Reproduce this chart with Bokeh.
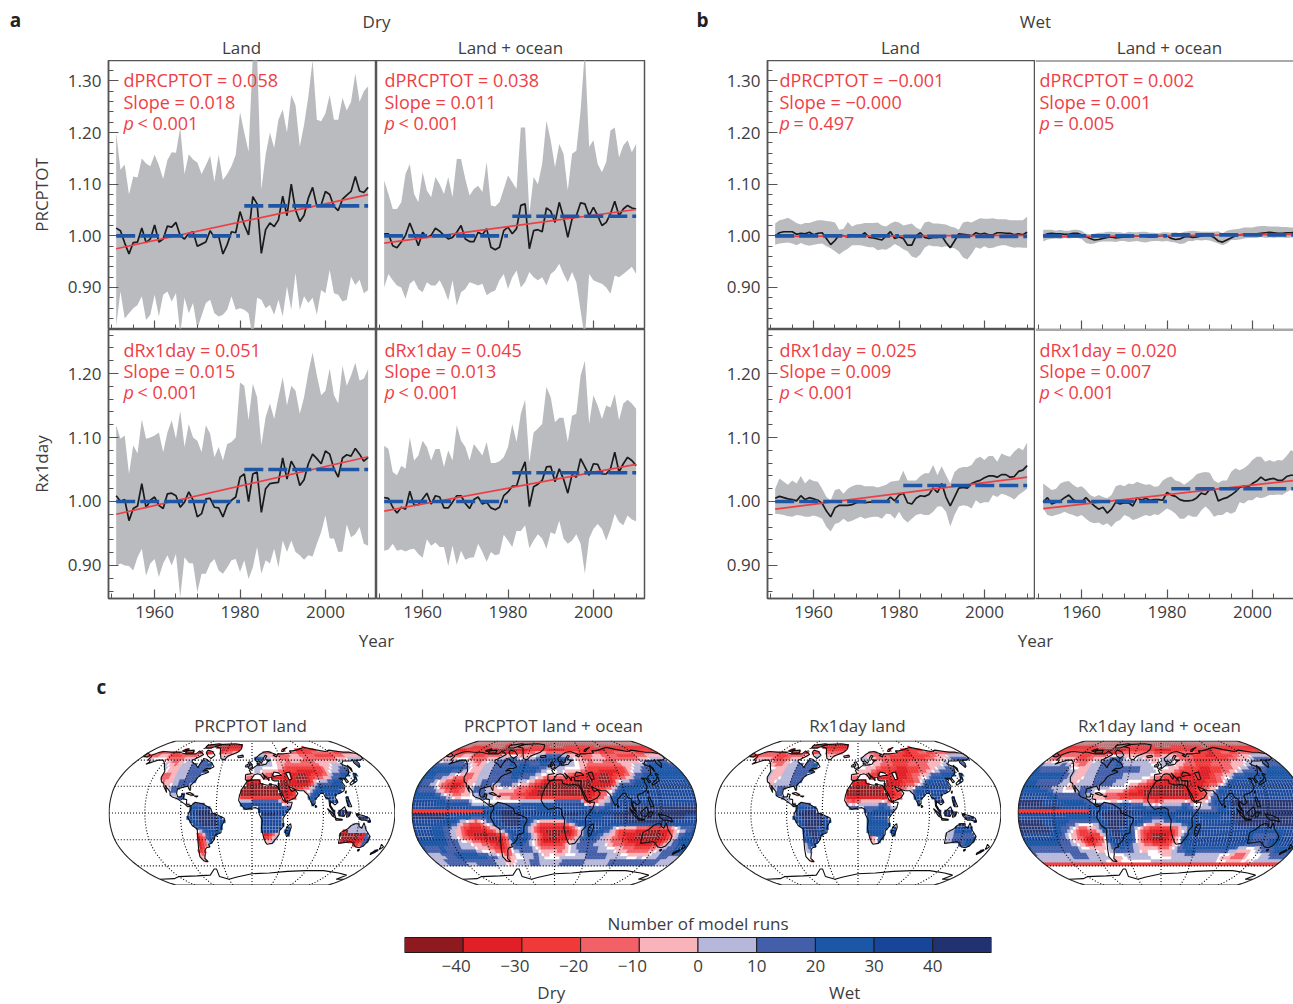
import numpy as np
from bokeh.core.properties import value
from bokeh.embed import file_html
from bokeh.layouts import column, row
from bokeh.models import FixedTicker, Range1d, Span
from bokeh.plotting import figure
from bokeh.resources import INLINE

FONT = "Open Sans"
TXT = "#3d3d3d"
RED = "#ee3e45"
GREY = "#babbbf"
BLUE = "#1f55a5"
BLACK = "#1a1a1a"
AX = "#555555"

YEARS = np.arange(1951, 2011)
P_TICKS = [0.90, 1.00, 1.10, 1.20, 1.30]
R_TICKS = [0.90, 1.00, 1.10, 1.20]

# a: dry, PRCPTOT, land
DLP_MEAN = [1.015,1.01,.986,.965,.987,.988,1.015,.987,.994,1.021,.988,.994,1.019,1.017,1.026,1.0,.994,1.005,1.008,.98,.984,.988,1.01,.997,.999,.965,.983,1.008,1.006,1.047,1.021,1.002,1.076,1.062,.966,1.012,1.025,1.018,1.031,1.077,1.039,1.10,1.05,1.028,1.04,1.073,1.094,1.057,1.06,1.086,1.08,1.057,1.049,1.071,1.079,1.086,1.115,1.087,1.084,1.094]
DLP_UP = [1.20,1.128,1.138,1.08,1.115,1.113,1.15,1.14,1.135,1.157,1.137,1.11,1.147,1.162,1.161,1.21,1.12,1.158,1.148,1.142,1.12,1.137,1.155,1.105,1.157,1.108,1.12,1.135,1.157,1.24,1.2,1.163,1.35,1.35,1.09,1.157,1.2,1.17,1.225,1.245,1.2,1.273,1.253,1.173,1.215,1.27,1.34,1.225,1.222,1.237,1.273,1.225,1.225,1.267,1.243,1.26,1.315,1.26,1.28,1.29]
DLP_LO = [.825,.892,.84,.85,.86,.866,.883,.837,.847,.886,.844,.886,.892,.873,.889,.81,.88,.85,.87,.82,.845,.87,.876,.85,.844,.847,.857,.883,.857,.86,.857,.85,.80,.88,.876,.86,.866,.847,.876,.844,.902,.857,.928,.857,.883,.87,.88,.847,.895,.889,.934,.889,.886,.873,.876,.921,.905,.915,.889,.895]
# a: dry, PRCPTOT, land + ocean
DOP_MEAN = [1.004,1.004,.981,.977,.988,1.001,1.025,1.004,.981,1.007,.997,1.001,1.015,1.009,1.001,.994,.997,1.007,1.02,.994,.989,.989,1.007,1.002,1.014,.978,.973,.978,1.01,1.017,1.004,1.014,1.059,1.062,.975,1.01,1.012,1.008,1.054,1.048,1.026,1.065,1.036,.997,1.033,1.039,1.064,1.062,1.039,1.055,1.039,1.02,1.026,1.043,1.067,1.039,1.052,1.059,1.054,1.052]
DOP_UP = [1.107,1.081,1.052,1.052,1.065,1.12,1.139,1.081,1.065,1.123,1.088,1.075,1.114,1.10,1.081,1.114,1.075,1.149,1.149,1.11,1.078,1.091,1.097,1.085,1.143,1.059,1.057,1.065,1.091,1.117,1.104,1.091,1.21,1.21,1.043,1.114,1.10,1.139,1.223,1.185,1.133,1.178,1.159,1.088,1.159,1.165,1.243,1.36,1.172,1.185,1.139,1.123,1.143,1.204,1.21,1.152,1.175,1.185,1.162,1.178]
DOP_LO = [.90,.926,.914,.904,.90,.878,.907,.914,.897,.891,.91,.904,.904,.914,.897,.875,.914,.865,.891,.897,.91,.907,.904,.907,.885,.891,.894,.914,.926,.897,.92,.933,.90,.91,.93,.92,.914,.92,.904,.926,.933,.946,.926,.91,.93,.91,.855,.80,.926,.914,.91,.907,.90,.888,.923,.92,.926,.933,.94,.926]
# a: dry, Rx1day, land
DLR_MEAN = [1.009,1.0,1.003,.97,.989,.993,1.028,.99,1.002,1.007,.994,.989,1.012,1.013,1.009,.991,.999,1.015,1.002,.976,.981,1.004,1.005,.991,.99,.976,.994,1.002,1.007,1.038,1.043,1.0,1.043,1.046,.983,1.02,1.028,1.029,1.03,1.068,1.035,1.063,1.051,1.025,1.034,1.059,1.074,1.067,1.059,1.079,1.074,1.051,1.038,1.068,1.073,1.071,1.083,1.074,1.063,1.069]
DLR_UP = [1.119,1.098,1.103,1.043,1.088,1.075,1.128,1.098,1.10,1.103,1.108,1.077,1.108,1.127,1.098,1.142,1.085,1.121,1.10,1.095,1.077,1.119,1.106,1.069,1.085,1.064,1.09,1.093,1.10,1.186,1.181,1.127,1.184,1.163,1.088,1.132,1.153,1.129,1.163,1.194,1.15,1.181,1.173,1.137,1.163,1.202,1.233,1.197,1.166,1.173,1.208,1.166,1.153,1.212,1.181,1.197,1.217,1.189,1.192,1.207]
DLR_LO = [.90,.903,.90,.899,.892,.913,.926,.884,.903,.91,.882,.903,.916,.90,.918,.85,.913,.904,.903,.858,.887,.887,.903,.91,.892,.887,.897,.908,.91,.89,.908,.879,.897,.929,.887,.908,.903,.926,.897,.939,.921,.939,.921,.916,.909,.916,.914,.934,.952,.978,.942,.942,.921,.922,.964,.944,.949,.96,.934,.931]
# a: dry, Rx1day, land + ocean
DOR_MEAN = [1.006,1.005,.991,.982,.991,.988,1.016,.994,.995,1.004,1.013,.996,1.009,1.007,.99,.99,.999,1.009,1.009,.997,.989,1.003,1.007,.996,.999,.99,.987,.991,1.009,1.015,1.024,1.024,1.046,1.062,.992,1.023,1.027,1.033,1.054,1.055,1.031,1.051,1.035,1.013,1.042,1.038,1.067,1.054,1.041,1.059,1.058,1.043,1.043,1.051,1.077,1.046,1.059,1.069,1.064,1.056]
DOR_UP = [1.087,1.082,1.046,1.041,1.056,1.051,1.10,1.064,1.072,1.095,1.085,1.064,1.082,1.082,1.054,1.08,1.064,1.119,1.095,1.085,1.064,1.09,1.081,1.072,1.093,1.06,1.06,1.063,1.069,1.085,1.121,1.093,1.137,1.159,1.061,1.108,1.114,1.121,1.179,1.163,1.124,1.131,1.131,1.093,1.134,1.137,1.197,1.22,1.121,1.166,1.15,1.129,1.15,1.147,1.168,1.127,1.153,1.159,1.153,1.145]
DOR_LO = [.923,.925,.934,.923,.925,.922,.925,.926,.918,.912,.941,.931,.936,.929,.929,.899,.931,.901,.923,.909,.912,.913,.934,.921,.906,.921,.916,.918,.948,.939,.929,.954,.954,.963,.927,.939,.949,.942,.926,.952,.949,.97,.942,.934,.939,.949,.934,.887,.942,.957,.965,.957,.939,.957,.981,.968,.963,.978,.972,.969]
# b: wet, PRCPTOT, land
WLP_MEAN = [1.0,1.006,1.008,1.008,1.008,1.003,1.005,1.004,1.007,1.002,1.005,1.006,.995,.983,.991,1.002,1.0,.998,1.0,.999,1.0,1.006,.997,.996,.994,.992,1.0,1.008,.995,.998,.995,.982,.982,1.0,1.006,.997,.995,.997,.997,1.0,.987,.977,.99,1.004,1.003,1.002,1.0,1.006,1.003,1.005,1.002,1.002,1.006,1.006,1.005,1.005,1.002,1.004,1.002,1.007]
WLP_UP = [1.024,1.03,1.032,1.035,1.03,1.025,1.022,1.025,1.025,1.028,1.03,1.03,1.029,1.028,1.026,1.012,1.014,1.027,1.018,1.022,1.023,1.025,1.025,1.025,1.026,1.02,1.018,1.024,1.028,1.026,1.02,1.022,1.024,1.016,1.012,1.026,1.028,1.024,1.024,1.023,1.022,1.018,1.016,1.012,1.026,1.028,1.026,1.03,1.034,1.033,1.033,1.034,1.032,1.032,1.032,1.03,1.03,1.03,1.03,1.037]
WLP_LO = [.983,.985,.986,.987,.985,.982,.986,.983,.981,.983,.984,.985,.98,.976,.97,.964,.97,.975,.982,.982,.982,.98,.978,.978,.972,.974,.973,.978,.984,.98,.974,.97,.96,.957,.964,.977,.982,.98,.98,.978,.98,.977,.976,.97,.958,.954,.965,.978,.975,.98,.976,.977,.98,.982,.982,.979,.977,.978,.977,.977]
# b: wet, PRCPTOT, land + ocean
WOP_MEAN = [1.0,1.004,1.005,1.004,1.004,1.003,1.003,1.005,1.005,1.002,.999,.995,.992,.993,.995,.997,.998,.996,.997,.998,.998,.999,1.0,1.0,.999,.998,.998,1.0,1.001,1.0,.995,.993,.994,.998,.999,.997,.998,1.0,1.001,1.001,.997,.99,.988,.992,.996,1.0,1.002,1.003,1.003,1.004,1.004,1.005,1.006,1.007,1.006,1.005,1.005,1.006,1.006,1.007]
WOP_UP = [1.012,1.012,1.012,1.01,1.012,1.01,1.01,1.012,1.012,1.01,1.004,1.003,1.004,1.006,1.006,1.008,1.008,1.007,1.007,1.005,1.008,1.007,1.007,1.008,1.008,1.006,1.006,1.005,1.007,1.007,1.006,1.007,1.005,1.008,1.009,1.01,1.009,1.008,1.008,1.008,1.008,1.009,1.005,1.01,1.012,1.013,1.014,1.016,1.016,1.016,1.018,1.019,1.019,1.018,1.018,1.018,1.017,1.017,1.016,1.016]
WOP_LO = [.989,.993,.994,.995,.994,.996,.995,.996,.996,.994,.986,.984,.985,.988,.989,.989,.989,.988,.99,.99,.988,.989,.99,.988,.987,.989,.99,.99,.989,.99,.988,.987,.984,.985,.99,.99,.992,.991,.992,.991,.988,.985,.982,.985,.992,.992,.993,.995,.996,.996,.996,.998,.996,.997,.996,.997,.997,.996,.997,.997]
# b: wet, Rx1day, land
WLR_MEAN = [1.005,1.008,1.006,1.004,1.003,1.001,1.009,1.003,1.006,1.004,1.002,.997,.985,.976,.99,.994,.994,.994,.995,.998,.999,.998,.999,.999,.999,.999,1.0,1.007,1.001,1.01,1.013,.998,.996,1.005,1.009,1.008,1.011,1.021,1.014,1.028,1.007,.993,1.007,1.021,1.022,1.021,1.028,1.031,1.033,1.037,1.04,1.04,1.038,1.042,1.042,1.038,1.039,1.047,1.049,1.056]
WLR_UP = [1.02,1.036,1.031,1.026,1.033,1.028,1.04,1.028,1.035,1.032,1.031,1.02,1.007,1.002,1.018,1.02,1.012,1.02,1.024,1.026,1.026,1.024,1.024,1.024,1.022,1.024,1.026,1.031,1.032,1.033,1.048,1.033,1.033,1.033,1.04,1.044,1.044,1.057,1.041,1.055,1.041,1.028,1.046,1.052,1.054,1.054,1.057,1.067,1.07,1.065,1.071,1.071,1.062,1.075,1.072,1.07,1.078,1.084,1.08,1.092]
WLR_LO = [.981,.98,.979,.977,.976,.979,.978,.976,.976,.978,.976,.973,.96,.953,.965,.967,.973,.968,.97,.973,.976,.973,.975,.976,.976,.973,.981,.98,.973,.984,.973,.967,.973,.979,.981,.979,.979,.984,.992,.992,.984,.961,.979,.992,.994,.993,.989,1.002,.997,.999,.999,1.01,1.007,1.012,1.01,1.007,1.003,1.01,1.015,1.02]
# b: wet, Rx1day, land + ocean
WOR_MEAN = [.999,1.006,.996,.999,1.001,1.006,1.01,1.003,.999,.999,1.006,.999,.993,.988,.991,.982,.988,.999,.996,.998,.998,.993,1.006,1.002,1.005,1.002,1.003,1.003,1.002,1.014,1.01,1.008,1.003,1.001,1.001,1.002,1.006,1.013,1.011,1.019,1.02,1.001,1.004,1.006,1.01,1.015,1.022,1.024,1.023,1.028,1.032,1.038,1.033,1.035,1.036,1.033,1.033,1.039,1.041,1.041]
WOR_UP = [1.028,1.023,1.018,1.02,1.028,1.031,1.032,1.026,1.022,1.024,1.018,1.01,1.007,1.01,1.007,1.005,1.01,1.024,1.026,1.024,1.028,1.027,1.031,1.028,1.026,1.027,1.023,1.024,1.033,1.037,1.039,1.033,1.031,1.026,1.031,1.036,1.043,1.045,1.046,1.045,1.033,1.029,1.033,1.033,1.046,1.052,1.049,1.052,1.057,1.065,1.07,1.07,1.062,1.065,1.062,1.065,1.064,1.071,1.08,1.078]
WOR_LO = [.989,.979,.977,.979,.981,.984,.981,.979,.976,.979,.973,.968,.966,.967,.963,.966,.96,.968,.971,.979,.976,.971,.973,.976,.979,.977,.98,.979,.984,.989,.986,.981,.973,.973,.979,.976,.976,.986,.992,.986,.976,.979,.979,.984,.981,.984,.999,.997,1.002,1.002,1.007,1.005,1.007,1.01,1.01,1.011,1.01,1.015,1.018,1.02]

MEANS_AND_ENVELOPES = [DLP_MEAN,DLP_UP,DLP_LO,DOP_MEAN,DOP_UP,DOP_LO,DLR_MEAN,DLR_UP,DLR_LO,DOR_MEAN,DOR_UP,DOR_LO,
                       WLP_MEAN,WLP_UP,WLP_LO,WOP_MEAN,WOP_UP,WOP_LO,WLR_MEAN,WLR_UP,WLR_LO,WOR_MEAN,WOR_UP,WOR_LO]
for i, s in enumerate(MEANS_AND_ENVELOPES):
    assert len(s) == 60, (i, len(s))

# c: agreement fields, 7.5 degree cells, north to south, lon -180 to 180
# a..e = dry bins (darkest first), f..j = wet bins, . = none
P_FIELD = [
"aaaaaaaa aaaaaaaa aaaaaaaa aaaaaaaa aaaaaaaa aaaaaaaa",
"aaaaaaaa aaabaaaa aaaaaaaa aaaaaaaa aaaaaaaa aaaaaaaa",
"bbcccccc bbaaaaab bcddddcb bbcccccc cccbccdd dddccccc",
"dddeeecc ddeeffgg e..fgghh hhgfeedd eeedddcc ccddeeef",
"fgggggfe deffgggh ghhgghhg hgff.eed eedddeee ffghhhhg",
"hhhhhhgf eeffgggg hhhhhgf. ffe..ecc cbbbccef fgghhhhh",
"hhggfeed deffgggg hhggf.ee eedcbbbb aabccdfg hhhhhhhh",
"ggfedcbb eefggggg gf.edcaa aaaaaaab aacfgghh hiiiiiii",
"gggfdcbc dfggfde. eddcbaaa aaaaaabc defhhhhi iiiiiiii",
"hhhhgfed eefggfdd dccbbaaa aaaaabbc dfhiiiii iiiiiiii",
"iiiihhhh ggeeeeff ffgghhhh iiiiicde fgiiiiii iiiiiiii",
"iiiiiiii iiiiihij jiiiihhh iiiiiihg hiiijjjj jjjjjjjj",
"jjjjjjii iihhhiij jjiiiiii ijjjiihh iijjjjjj jjjjjjii",
"iiiihhhg edcdfgij jjihfdcc cdfhiiii iiiijjjj jjjjiiii",
"iiihhgfe cbbbcdfh iihfdbaa aaacegii hgecccbb aabbdffg",
"iiihhgfe cbaaaabc hiihfdba abbdfhhg fedcbbaa aaabdghh",
"hhhhhggf feedcbac ghhfecbb bcefgggf feddcbbb abbdfghh",
"ggghgggf ffeedcbd fgggfeee dd.fgggg fffeeddc cdefggii",
"fffgghhh hhhggfed e.ffgfe. .....fgg ggffffee .effggff",
"ffggggff ggggffee fffggfff fgggggff fffggggg gggggfff",
"ffffffff ffffffff ffffffff ffffffff ffffffff ffffffff",
"........ ........ ........ ........ ........ ........",
"........ ........ ........ ........ ........ ........",
"........ ........ ........ ........ ........ ........",
]
R_FIELD = [
"aaaaaaaa aaaaaaaa aaaaaaaa aaaaaaaa aaaaaaaa aaaaaaaa",
"aaaaaaaa aaaaaaaa aaaaaaaa aaaaaaaa aaaaaaaa aaaaaaaa",
"cccdddcc bbaaaabc cdddcccb bbccdddd cccbccdd cccccccc",
"ccddddcc ddeefggg e..feeee ffeedddc ccbbcccc deefgggg",
"ffffgfed deffgggh ffffffe. fffeeddc ccddddee effffggg",
"hgggggff eeffgggh ggggfff. .eedcccb bbccddef fggghhhh",
"hhhhhhgf eeffgggg gfffff.e dccbbbcb bcdeeghh hhhhhhhh",
"hhggggff efffgggg ff..edcb bbaaaabb ccdfhiii iiiiiiii",
"hhhggffe efggfffe ..dcbaaa aaaabbcd efhiiiii iiiiiiii",
"iiiiihgg gggfeddc cbbbbaaa aaaaaabc fgiiiiii iiiiiiii",
"jjjjiiih hhhgffff fggffeed ffffgeef giiijjjj jjjjjjjj",
"jjjjjjji iiiiiiij jjjiihhh hgghhgff fghiijjj jjjjjjjj",
"iiiiiiii hhhhiijj jjiiiihh hhiijiih hhiijjjj jjjjjjjj",
"jjjjiihh ggfffgij jjiihffe ffgghhii iiiiijjj jjjjjjjj",
"jjjjjihg fecddfij jihfdcbb bbcefhii iiiiiiih hhhhhiii",
"iiiiihhf edcbbcfi jihfdbaa abdfhiii iiiiiiih gggghiii",
"hhhhhhgg fedbcdfh iihfeccb bcefhiii iiiiiiih ggghhiii",
"gggggggg gfffeefg gggfee.. defghhhg ggggggee efggghhh",
"fffffffg ggffff.e efffff.. .effffff fffeeddc ..effggg",
"ffffffff fffff.ee ......ff ffffffff fff..... .effffff",
"........ ........ ........ ........ ........ ........",
"........ ........ ........ ........ ........ ........",
"........ ........ ........ ........ ........ ........",
"........ ........ ........ ........ ........ ........",
]
# bands too thin for the 7.5 degree cells: lat_min, lat_max, lon_min, lon_max, bin
P_BANDS = [(0.0, 3.75, -180, -90, "c")]
R_BANDS = [(0.0, 3.75, -180, -90, "c"), (-60.0, -56.25, -180, 180, "c")]
# places where the land-only map differs from the land + ocean one
P_LAND = [(-24, -8, 10, 40, "i"), (-22, -10, 125, 155, "f"), (-40, -20, 148, 156, "g")]
R_LAND = [(-28, -8, 10, 40, "h"), (-34, -14, 112, 122, "f")]

BIN_COLORS = ["#8e1a1f", "#e01f26", "#f03a3a", "#f26168", "#f9b4bb",
              "#b6b7da", "#445fa9", "#1b57a6", "#17459a", "#223270"]
BIN_EDGES = [-50, -40, -30, -20, -10, 0, 10, 20, 30, 40, 50]
BIN_LABELS = ["\u221240", "\u221230", "\u221220", "\u221210", "0", "10", "20", "30", "40"]

# Robinson table
ROB_LAT = np.arange(0, 95, 5)
ROB_PLEN = [1,.9986,.9954,.99,.9822,.973,.96,.9427,.9216,.8962,.8679,.835,.7986,.7597,.7186,.6732,.6213,.5722,.5322]
ROB_PDFE = [0,.062,.124,.186,.248,.31,.372,.434,.4958,.5571,.6176,.6769,.7346,.7903,.8435,.8936,.9394,.9761,1]

# coastlines (lon, lat), coarse
NORTH_AMERICA = [(-168,66),(-162,70),(-156,71),(-141,70),(-128,70),(-115,68),(-108,68),(-96,68),(-94,72),(-86,69),(-82,67),(-87,64),(-94,60),(-92,57),(-85,55),(-82,53),(-79,51),(-79,55),(-77,60),(-78,62),(-72,61),(-66,58),(-62,57),(-56,52),(-60,50),(-66,50),(-70,47),(-65,48),(-61,46),(-66,44),(-70,43),(-74,40),(-76,36),(-81,31),(-80,25),(-82,27),(-84,30),(-90,29),(-97,27),(-97,22),(-95,18),(-91,18),(-90,21),(-87,21),(-88,16),(-83,15),(-83,10),(-79,9),(-77,8),(-81,7),(-85,10),(-90,13),(-95,16),(-102,18),(-105,20),(-106,24),(-112,29),(-114,31),(-110,23),(-115,29),(-117,33),(-121,35),(-124,40),(-124,47),(-128,51),(-133,56),(-140,60),(-148,60),(-153,58),(-160,55),(-158,58),(-165,61),(-165,64)]
SOUTH_AMERICA = [(-77,8),(-72,12),(-62,10),(-52,5),(-50,0),(-44,-2),(-35,-6),(-35,-9),(-39,-15),(-40,-22),(-48,-25),(-49,-29),(-54,-34),(-58,-35),(-57,-38),(-62,-39),(-65,-42),(-66,-46),(-69,-51),(-66,-55),(-72,-54),(-75,-49),(-73,-40),(-71,-30),(-70,-18),(-76,-14),(-81,-5),(-80,0),(-77,4)]
AFRICA = [(-6,36),(3,37),(10,37),(11,33),(20,31),(25,32),(32,31),(34,28),(37,21),(39,15),(43,12),(51,12),(49,6),(42,-2),(39,-6),(40,-15),(35,-20),(35,-24),(32,-28),(27,-34),(20,-35),(18,-33),(15,-27),(12,-17),(13,-8),(9,-1),(9,4),(5,6),(-4,5),(-8,4),(-13,8),(-17,14),(-16,20),(-13,27),(-10,31)]
EURASIA = [(-9,37),(-9,43),(-1,44),(-4,48),(1,50),(4,52),(8,54),(8,57),(11,56),(10,54),(14,54),(21,55),(24,58),(29,60),(23,60),(21,62),(25,65),(22,66),(18,62),(17,59),(14,56),(11,59),(7,58),(5,62),(13,67),(20,70),(28,71),(41,67),(35,66),(40,64),(44,68),(54,68),(68,69),(67,72),(73,72),(80,73),(100,77),(113,74),(130,71),(140,73),(160,70),(170,70),(180,68),(180,65),(178,62),(170,60),(163,60),(163,56),(157,51),(156,57),(160,61),(155,59),(142,59),(135,55),(141,52),(135,44),(129,41),(127,39),(129,35),(126,34),(125,39),(121,39),(118,39),(122,37),(120,35),(122,30),(119,25),(113,22),(108,21),(106,18),(109,12),(105,9),(100,13),(99,9),(104,1),(101,3),(98,8),(98,16),(94,17),(92,22),(88,22),(85,19),(80,15),(80,11),(77,8),(74,14),(72,20),(70,22),(67,25),(61,25),(57,26),(52,28),(48,30),(50,26),(52,24),(56,26),(59,22),(55,17),(45,13),(43,13),(39,21),(35,28),(35,32),(36,36),(30,36),(27,37),(27,40),(23,40),(23,36),(20,40),(14,45),(18,40),(16,38),(12,43),(8,44),(3,43),(0,39),(-2,37),(-5,36)]
CHUKOTKA = [(-180,65),(-172,64),(-170,66),(-180,69)]
GREENLAND = [(-73,78),(-60,82),(-35,83),(-20,81),(-20,74),(-25,70),(-40,65),(-44,60),(-50,62),(-54,68),(-60,76)]
BAFFIN = [(-80,73),(-70,71),(-62,66),(-66,62),(-73,65),(-80,70)]
VICTORIA = [(-117,72),(-105,73),(-102,69),(-115,69)]
ELLESMERE = [(-90,80),(-70,83),(-62,82),(-78,76),(-88,76)]
BANKS = [(-125,72),(-118,75),(-115,73),(-120,71)]
NOVAYA = [(52,71),(56,74),(68,77),(60,74),(55,71)]
ICELAND = [(-24,65),(-15,66),(-14,64),(-22,63)]
BRITAIN = [(-5,50),(1,51),(0,54),(-3,58),(-6,57),(-3,54),(-5,52)]
IRELAND = [(-10,52),(-6,52),(-6,55),(-9,54)]
HONSHU = [(130,31),(136,34),(141,36),(142,40),(141,41),(139,38),(133,35),(130,33)]
HOKKAIDO = [(140,42),(145,43),(142,45)]
SAKHALIN = [(142,46),(144,50),(142,54),(142,50)]
MADAGASCAR = [(49,-12),(50,-16),(47,-25),(44,-25),(43,-21),(44,-16)]
SRI_LANKA = [(80,9),(82,7),(80,6)]
SUMATRA = [(95,5),(104,-2),(106,-6),(101,-3)]
BORNEO = [(109,1),(117,7),(119,1),(116,-4),(110,-3)]
JAVA = [(105,-6),(114,-7),(114,-8),(106,-8)]
SULAWESI = [(119,-5),(120,1),(125,1),(122,-4)]
NEW_GUINEA = [(131,-1),(141,-3),(148,-6),(150,-10),(143,-8),(138,-8),(133,-4)]
PHILIPPINES = [(120,18),(122,18),(124,12),(126,7),(122,7),(120,14)]
TAIWAN = [(120,23),(122,25),(121,22)]
AUSTRALIA = [(114,-22),(122,-18),(126,-14),(131,-12),(136,-12),(136,-15),(140,-17),(142,-11),(146,-19),(153,-26),(153,-31),(150,-37),(146,-39),(140,-38),(136,-35),(131,-32),(124,-33),(115,-34)]
TASMANIA = [(145,-41),(148,-41),(147,-43)]
NZ_NORTH = [(173,-35),(178,-38),(175,-41),(174,-38)]
NZ_SOUTH = [(173,-41),(174,-42),(168,-47),(167,-45)]
CUBA = [(-85,22),(-80,23),(-74,20),(-78,20)]
HISPANIOLA = [(-74,19),(-69,19),(-71,18)]
BLACK_SEA = [(28,42),(31,46),(37,45),(41,42),(35,42),(30,41)]
CASPIAN = [(47,45),(53,46),(54,38),(50,37),(49,40)]
ANTARCTICA = [(-180,-78),(-150,-77),(-135,-74),(-100,-73),(-75,-72),(-62,-64),(-58,-64),(-60,-74),(-45,-78),(-30,-75),(0,-70),(30,-69),(60,-67),(90,-66),(120,-66),(150,-69),(170,-72),(165,-78),(180,-78)]
LAND = [NORTH_AMERICA,SOUTH_AMERICA,AFRICA,EURASIA,CHUKOTKA,GREENLAND,BAFFIN,VICTORIA,ELLESMERE,BANKS,NOVAYA,ICELAND,BRITAIN,IRELAND,HONSHU,HOKKAIDO,SAKHALIN,MADAGASCAR,SRI_LANKA,SUMATRA,BORNEO,JAVA,SULAWESI,NEW_GUINEA,PHILIPPINES,TAIWAN,AUSTRALIA,TASMANIA,NZ_NORTH,NZ_SOUTH,CUBA,HISPANIOLA]
WATER = [BLACK_SEA, CASPIAN]


def rob(lon, lat):
    lon = np.asarray(lon, float)
    lat = np.asarray(lat, float)
    a = np.abs(lat)
    x = 0.8487 * np.interp(a, ROB_LAT, ROB_PLEN) * np.radians(lon)
    y = 1.3523 * np.interp(a, ROB_LAT, ROB_PDFE) * np.sign(lat)
    return x, y


XMAX = 0.8487 * np.pi
YMAX = 1.3523


def inside(poly, lon, lat):
    pts = np.array(poly, float)
    x0, y0 = pts[:, 0], pts[:, 1]
    x1, y1 = np.roll(x0, -1), np.roll(y0, -1)
    res = np.zeros(lon.shape, bool)
    for a, b, c, d in zip(x0, y0, x1, y1):
        if b == d:
            continue
        cond = (b > lat) != (d > lat)
        xi = a + (lat - b) * (c - a) / (d - b)
        res ^= cond & (lon < xi)
    return res


CELL = 3.75
F_LON = np.arange(-180 + CELL / 2, 180, CELL)
F_LAT = np.arange(90 - CELL / 2, -90, -CELL)
LON2, LAT2 = np.meshgrid(F_LON, F_LAT)
LAND_MASK = np.zeros(LON2.shape, bool)
for poly in LAND:
    LAND_MASK |= inside(poly, LON2, LAT2)
for poly in WATER:
    LAND_MASK &= ~inside(poly, LON2, LAT2)

CHAR_VAL = {c: -45 + 10 * i for i, c in enumerate("abcdefghij")}
CHAR_VAL["."] = 0.0


def field(rows, bands):
    rows = [r.replace(" ", "") for r in rows]
    for r in rows:
        assert len(r) == 48, r
    vals = np.array([[CHAR_VAL[c] for c in r] for r in rows], float)
    clon = np.arange(-180 + 3.75, 180, 7.5)
    clat = np.arange(90 - 3.75, -90, -7.5)
    a = np.array([np.interp(F_LON, clon, v, period=360) for v in vals])
    out = np.array([np.interp(-F_LAT, -clat, a[:, j]) for j in range(a.shape[1])]).T
    for lo_lat, hi_lat, lo_lon, hi_lon, ch in bands:
        m = (LAT2 > lo_lat) & (LAT2 < hi_lat) & (LON2 > lo_lon) & (LON2 < hi_lon)
        out[m] = CHAR_VAL[ch]
    out[LAT2 < -60] = 0
    return out


def make_map(rows, bands, land_only, width, left, x_end=None, right=0):
    v = field(rows, bands)
    xs, ys, cols, alphas, lcols, lalphas = [], [], [], [], [], []
    for i, la in enumerate(F_LAT):
        for j, lo in enumerate(F_LON):
            if abs(v[i, j]) < 2.5:
                continue
            if land_only and not LAND_MASK[i, j]:
                continue
            h = CELL / 2
            x, y = rob([lo - h, lo + h, lo + h, lo - h], [la + h, la + h, la - h, la - h])
            xs.append(list(x))
            ys.append(list(y))
            b = int(np.clip(np.digitize(v[i, j], BIN_EDGES) - 1, 0, 9))
            cols.append(BIN_COLORS[b])
            alphas.append(0.72 if (la > 76 and not land_only) else 1.0)
            dark = b in (0, 8, 9)
            lcols.append("white" if dark else BIN_COLORS[b])
            lalphas.append(0.22 if dark else 1.0)
    p = figure(width=width + left + right, height=145,
               x_range=Range1d(-XMAX - 0.01, x_end if x_end else XMAX + 0.01),
               y_range=Range1d(-YMAX - 0.01, YMAX + 0.01),
               x_axis_type=None, y_axis_type=None, toolbar_location=None, output_backend="svg",
               min_border_left=left, min_border_right=right, min_border_top=0, min_border_bottom=0,
               outline_line_color=None)
    p.grid.visible = False
    p.patches(xs, ys, fill_color=cols, fill_alpha=alphas, line_color=lcols, line_alpha=lalphas, line_width=0.4)
    # graticule
    la = np.arange(-90, 90.5, 2.5)
    for lon in range(-135, 136, 45):
        x, y = rob(np.full(la.shape, lon), la)
        p.line(x, y, line_color="#000000", line_width=1.1, line_dash="1 2")
    lo = np.arange(-180, 180.5, 5)
    for lat in [-60, -30, 0, 30, 60]:
        x, y = rob(lo, np.full(lo.shape, lat))
        p.line(x, y, line_color="#000000", line_width=1.1, line_dash="1 2")
    # coast
    cx, cy = [], []
    for poly in LAND + WATER:
        a = np.array(poly + [poly[0]], float)
        x, y = rob(a[:, 0], a[:, 1])
        cx.append(list(x))
        cy.append(list(y))
    a = np.array(ANTARCTICA, float)
    x, y = rob(a[:, 0], a[:, 1])
    cx.append(list(x))
    cy.append(list(y))
    p.multi_line(cx, cy, line_color="#0d0d0d", line_width=1.1)
    # frame of the projection
    la = np.arange(-90, 90.5, 2.5)
    xl, yl = rob(np.full(la.shape, -180), la)
    xr, yr = rob(np.full(la.shape, 180), la)
    p.line(list(xl) + list(xr[::-1]) + [xl[0]], list(yl) + list(yr[::-1]) + [yl[0]],
           line_color="#222222", line_width=1.1)
    return p


def panel(mean, up, lo, trend, steps, ticks, yr, minor, left, right, frame_w, bottom, show_x, show_y,
          ylab, lines, tx, ty, edge=False):
    x_end = 1949.2 + frame_w / 4.27
    p = figure(width=left + frame_w + right, height=269 + bottom,
               x_range=Range1d(1949.2, x_end), y_range=Range1d(*yr),
               toolbar_location=None, output_backend="svg",
               min_border_left=left, min_border_right=right, min_border_top=0, min_border_bottom=bottom,
               y_axis_location="left" if show_y else None)
    p.grid.visible = False
    p.outline_line_color = None if edge else AX
    p.outline_line_width = 1.5
    if edge:
        p.add_layout(Span(location=yr[1], dimension="width", line_color=AX, line_width=2))
    ax = p.xaxis[0]
    ax.ticker = FixedTicker(ticks=[1960, 1980, 2000], minor_ticks=list(range(1950, 2015, 5)))
    ax.major_tick_in, ax.major_tick_out = 9, 0
    ax.minor_tick_in, ax.minor_tick_out = 5, 0
    ax.axis_line_color = AX
    ax.axis_line_width = 1.5
    ax.major_tick_line_color = AX
    ax.minor_tick_line_color = AX
    ax.major_tick_line_width = 1.2
    ax.minor_tick_line_width = 1.0
    if show_x:
        ax.major_label_text_font = FONT
        ax.major_label_text_font_size = "17px"
        ax.major_label_text_color = TXT
        ax.major_label_standoff = 7
    else:
        ax.major_label_overrides = {1960: "", 1980: "", 2000: ""}
        ax.major_label_standoff = 0
    if show_y:
        ay = p.yaxis[0]
        ay.ticker = FixedTicker(ticks=ticks, minor_ticks=list(minor))
        ay.major_label_overrides = {t: "%.2f" % t for t in ticks}
        ay.major_tick_in, ay.major_tick_out = 10, 0
        ay.minor_tick_in, ay.minor_tick_out = 5, 0
        ay.axis_line_color = AX
        ay.axis_line_width = 1.5
        ay.major_tick_line_color = AX
        ay.minor_tick_line_color = AX
        ay.major_tick_line_width = 1.2
        ay.minor_tick_line_width = 1.0
        ay.major_label_text_font = FONT
        ay.major_label_text_font_size = "17px"
        ay.major_label_text_color = TXT
        ay.major_label_standoff = 7
        if ylab:
            ay.axis_label = ylab
            ay.axis_label_text_font = FONT
            ay.axis_label_text_font_size = "17px"
            ay.axis_label_text_font_style = "normal"
            ay.axis_label_text_color = TXT
            ay.axis_label_standoff = 12

    p.varea(YEARS, lo, up, fill_color=GREY)
    p.line(YEARS, mean, line_color=BLACK, line_width=1.7)
    p.line([YEARS[0], YEARS[-1]], trend, line_color=RED, line_width=1.7)
    p.line(YEARS[:30], [steps[0]] * 30, line_color=BLUE, line_width=3.6, line_dash="19 5")
    p.line(YEARS[30:], [steps[1]] * 30, line_color=BLUE, line_width=3.6, line_dash="19 5")

    # panel notes, offsets from the frame's top-left corner in pixels
    yscale = (yr[1] - yr[0]) / 269
    xd = 1949.2 + tx / 4.27
    yd = [yr[1] - dy * yscale for dy in ty]
    kw = dict(text_font=value(FONT), text_font_size="18px", text_color=RED, text_baseline="middle", text_align="left")
    p.text([xd, xd], yd[:2], text=lines[:2], **kw)
    p.text([xd], yd[2:], text=["p"], text_font_style="italic", **kw)
    p.text([xd + 14 / 4.27], yd[2:], text=[lines[2]], **kw)
    return p


P_RANGE = (0.8186, 1.3397)
R_RANGE = (0.8484, 1.2688)
P_MINOR = np.arange(0.82, 1.34, 0.02).round(2)
R_MINOR = np.arange(0.86, 1.27, 0.02).round(2)
TY0 = (19.5, 41.5, 62.5)
TY1 = (20.5, 41.5, 62.5)

a1 = panel(DLP_MEAN, DLP_UP, DLP_LO, [.975, 1.08], [1.0, 1.058], P_TICKS, P_RANGE, P_MINOR, 108, 0, 268, 0, False, True,
           "PRCPTOT", ["dPRCPTOT = 0.058", "Slope = 0.018", "< 0.001"], 15, TY0)
a2 = panel(DOP_MEAN, DOP_UP, DOP_LO, [.986, 1.051], [1.0, 1.038], P_TICKS, P_RANGE, P_MINOR, 0, 15, 268, 0, False, False,
           None, ["dPRCPTOT = 0.038", "Slope = 0.011", "< 0.001"], 8, TY0)
b1 = panel(WLP_MEAN, WLP_UP, WLP_LO, [.999, 1.001], [1.0, .999], P_TICKS, P_RANGE, P_MINOR, 108, 0, 268, 0, False, True,
           None, ["dPRCPTOT = \u22120.001", "Slope = \u22120.000", "= 0.497"], 12, TY0)
b2 = panel(WOP_MEAN, WOP_UP, WOP_LO, [.998, 1.003], [1.0, 1.002], P_TICKS, P_RANGE, P_MINOR, 0, 0, 258, 0, False, False,
           None, ["dPRCPTOT = 0.002", "Slope = 0.001", "= 0.005"], 4, TY0, edge=True)
a3 = panel(DLR_MEAN, DLR_UP, DLR_LO, [.98, 1.07], [1.0, 1.05], R_TICKS, R_RANGE, R_MINOR, 108, 0, 268, 27, True, True,
           "Rx1day", ["dRx1day = 0.051", "Slope = 0.015", "< 0.001"], 15, TY1)
a4 = panel(DOR_MEAN, DOR_UP, DOR_LO, [.985, 1.058], [1.0, 1.045], R_TICKS, R_RANGE, R_MINOR, 0, 15, 268, 27, True, False,
           None, ["dRx1day = 0.045", "Slope = 0.013", "< 0.001"], 8, TY1)
b3 = panel(WLR_MEAN, WLR_UP, WLR_LO, [.988, 1.038], [1.0, 1.025], R_TICKS, R_RANGE, R_MINOR, 108, 0, 268, 27, True, True,
           None, ["dRx1day = 0.025", "Slope = 0.009", "< 0.001"], 12, TY1)
b4 = panel(WOR_MEAN, WOR_UP, WOR_LO, [.989, 1.033], [1.0, 1.02], R_TICKS, R_RANGE, R_MINOR, 0, 0, 258, 27, True, False,
           None, ["dRx1day = 0.020", "Slope = 0.007", "< 0.001"], 4, TY1, edge=True)


def strip(y_top, y_bottom, items):
    p = figure(width=1293, height=y_bottom - y_top, x_range=Range1d(0, 1293), y_range=Range1d(y_bottom, y_top),
               x_axis_type=None, y_axis_type=None, toolbar_location=None, output_backend="svg",
               min_border_left=0, min_border_right=0, min_border_top=0, min_border_bottom=0,
               outline_line_color=None)
    p.grid.visible = False
    for x, y, t, bold in items:
        p.text([x], [y], text=[t], text_font=value(FONT),
               text_font_size="19px" if bold else "17px",
               text_font_style="bold" if bold else "normal",
               text_color="#222222" if bold else TXT, text_align="center", text_baseline="middle")
    return p


top = strip(0, 60, [(15, 19, "a", True), (702, 19, "b", True), (376, 20.5, "Dry", False), (1035, 20.5, "Wet", False),
                    (241, 46.5, "Land", False), (510, 46.5, "Land + ocean", False),
                    (900, 46.5, "Land", False), (1169, 46.5, "Land + ocean", False)])
mid = strip(625, 740, [(376, 640, "Year", False), (1035, 640, "Year", False), (101, 686.5, "c", True),
                       (250, 725, "PRCPTOT land", False), (553, 725, "PRCPTOT land + ocean", False),
                       (857, 725, "Rx1day land", False), (1159, 725, "Rx1day land + ocean", False)])

m1 = make_map(P_FIELD, P_LAND, True, 287, 108)
m2 = make_map(P_FIELD, P_BANDS, False, 286, 16)
m3 = make_map(R_FIELD, R_LAND, True, 287, 17)
m4 = make_map(R_FIELD, R_BANDS, False, 276, 16, x_end=-XMAX - 0.01 + 276 * (2 * XMAX + 0.02) / 287)

# colour scale: frame spans the whole strip below the maps; y is in bar heights
BAR_PX = 15
cb = figure(width=1293, height=119, x_range=Range1d(-50, 50), y_range=Range1d(-52 / BAR_PX, 1 + 52 / BAR_PX),
            x_axis_type=None, y_axis_type=None, toolbar_location=None, output_backend="svg",
            min_border_left=404, min_border_right=302, min_border_top=0, min_border_bottom=0,
            outline_line_color=None)
cb.grid.visible = False
cb.quad(left=BIN_EDGES[:-1], right=BIN_EDGES[1:], bottom=0, top=1, fill_color=BIN_COLORS,
        line_color="#1a1a1a", line_width=1)


def cb_label(x, px_below, t, off=0):
    cb.text([x + off * 100 / 587], [-px_below / BAR_PX], text=[t], text_font=value(FONT), text_font_size="17px",
            text_color=TXT, text_align="center", text_baseline="middle")


cb_label(0, -29.5, "Number of model runs")
for t, lab in zip(BIN_EDGES[1:-1], BIN_LABELS):
    cb_label(t, 13.5, lab, -7 if t < 0 else 0)
cb_label(-25, 40, "Dry")
cb_label(25, 40, "Wet")

page = column(row(top), row(a1, a2, b1, b2), row(a3, a4, b3, b4), row(mid), row(m1, m2, m3, m4), row(cb), spacing=0)
open("out.html", "w").write(file_html(page, INLINE))
